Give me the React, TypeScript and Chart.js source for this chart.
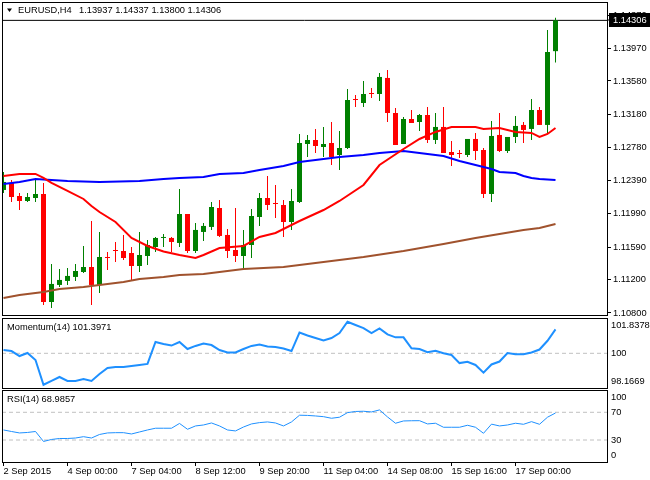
import React, { useEffect, useRef } from 'react';
import { Chart, registerables, ChartConfiguration, Plugin } from 'chart.js';

Chart.register(...registerables);

const FONT = '"Liberation Sans", Arial, sans-serif';
const FONT_SIZE = 9.3;
Chart.defaults.font.family = FONT;
Chart.defaults.font.size = FONT_SIZE;
Chart.defaults.color = '#000';

const BULL = '#008000';
const BEAR = '#ff0000';
const IND = '#1e90ff';
const LEVEL = '#c0c0c0';

// EURUSD H4, 2 Sep 2015 16:00 .. 17 Sep 2015 20:00 (70 bars)
const opens = [
  1.12274, 1.12358, 1.12202, 1.12142, 1.12178, 1.12226, 1.10932, 1.11136, 1.11184, 1.11232,
  1.11291, 1.11351, 1.11136, 1.11471, 1.11555, 1.11543, 1.11519, 1.11363, 1.11483, 1.11591,
  1.11699, 1.11699, 1.11639, 1.11986, 1.11543, 1.11771, 1.11831, 1.12058, 1.11735, 1.11555,
  1.11483, 1.11615, 1.11950, 1.12178, 1.12118, 1.12094, 1.11890, 1.12130, 1.12825, 1.12873,
  1.12789, 1.12837, 1.12693, 1.12777, 1.13364, 1.13316, 1.13436, 1.13424, 1.13616, 1.13196,
  1.12825, 1.13124, 1.13088, 1.13172, 1.12873, 1.13029, 1.12729, 1.12717, 1.12693, 1.12885,
  1.12753, 1.12226, 1.12933, 1.12741, 1.12909, 1.13053, 1.13005, 1.13232, 1.13053, 1.13937,
];
const highs = [
  1.12489, 1.12394, 1.12238, 1.12238, 1.12394, 1.12358, 1.11387, 1.11327, 1.11339, 1.11387,
  1.11603, 1.11902, 1.11771, 1.11531, 1.11651, 1.11735, 1.11591, 1.11771, 1.11675, 1.11711,
  1.11747, 1.11711, 1.12286, 1.11986, 1.11878, 1.11878, 1.12130, 1.12154, 1.11807, 1.12058,
  1.11795, 1.12046, 1.12238, 1.12442, 1.12334, 1.12154, 1.12286, 1.12945, 1.12933, 1.13005,
  1.13029, 1.13088, 1.12981, 1.13484, 1.13412, 1.13580, 1.13496, 1.13675, 1.13711, 1.13256,
  1.13148, 1.13232, 1.13184, 1.13268, 1.13196, 1.13268, 1.12861, 1.12753, 1.12885, 1.12957,
  1.12777, 1.13100, 1.13196, 1.12909, 1.13160, 1.13088, 1.13364, 1.13268, 1.14191, 1.14337,
];
const lows = [
  1.12238, 1.12130, 1.12034, 1.12130, 1.12130, 1.10896, 1.10860, 1.11112, 1.11136, 1.11184,
  1.11279, 1.10896, 1.11040, 1.11315, 1.11411, 1.11435, 1.11196, 1.11291, 1.11375, 1.11531,
  1.11591, 1.11531, 1.11591, 1.11519, 1.11519, 1.11663, 1.11795, 1.11711, 1.11459, 1.11411,
  1.11327, 1.11459, 1.11843, 1.12034, 1.11938, 1.11711, 1.11795, 1.12118, 1.12669, 1.12717,
  1.12669, 1.12573, 1.12513, 1.12765, 1.13268, 1.13268, 1.13376, 1.13340, 1.13088, 1.12813,
  1.12825, 1.13076, 1.12981, 1.12837, 1.12825, 1.12717, 1.12561, 1.12657, 1.12669, 1.12633,
  1.12178, 1.12130, 1.12729, 1.12717, 1.12837, 1.12837, 1.12873, 1.13053, 1.12957, 1.13800,
];
const closes = [
  1.12370, 1.12190, 1.12142, 1.12190, 1.12226, 1.10932, 1.11148, 1.11196, 1.11244, 1.11303,
  1.11351, 1.11136, 1.11471, 1.11459, 1.11543, 1.11459, 1.11363, 1.11495, 1.11615, 1.11699,
  1.11711, 1.11651, 1.11986, 1.11543, 1.11795, 1.11843, 1.12070, 1.11723, 1.11543, 1.11483,
  1.11615, 1.11962, 1.12178, 1.12094, 1.12106, 1.11890, 1.12142, 1.12837, 1.12873, 1.12801,
  1.12825, 1.12669, 1.12777, 1.13352, 1.13352, 1.13424, 1.13424, 1.13628, 1.13196, 1.12813,
  1.13124, 1.13076, 1.13172, 1.12873, 1.13029, 1.12717, 1.12693, 1.12705, 1.12885, 1.12741,
  1.12226, 1.12921, 1.12741, 1.12909, 1.13041, 1.12993, 1.13232, 1.13053, 1.13927, 1.14306,
];
const lastPrice = 1.14306;

// moving averages, read at the listed bar indexes
const redMaBars = [0, 2, 4, 5, 6, 8, 10, 11, 12, 14, 16, 18, 20, 22, 24, 25, 27, 30, 32, 34, 37, 40, 42, 45, 47, 50, 52, 54, 56, 59, 60, 62, 64, 66, 67, 68, 69];
const redMa = [
  1.12442, 1.12466, 1.12466, 1.12418, 1.12358, 1.12262, 1.12166, 1.12082, 1.12010, 1.11890,
  1.11699, 1.11603, 1.11537, 1.11495, 1.11459, 1.11495, 1.11579, 1.11603, 1.11711, 1.11759,
  1.11902, 1.12034, 1.12142, 1.12334, 1.12573, 1.12765, 1.12885, 1.12969, 1.13029, 1.13029,
  1.13005, 1.13017, 1.12969, 1.12957, 1.12909, 1.12945, 1.13017,
];
const blueMaBars = [0, 2, 4, 6, 8, 12, 17, 20, 22, 25, 27, 30, 32, 35, 37, 40, 42, 45, 47, 50, 52, 55, 57, 59, 61, 62, 64, 65, 66, 67, 69];
const blueMa = [
  1.12346, 1.12370, 1.12406, 1.12394, 1.12382, 1.12370, 1.12382, 1.12406, 1.12418, 1.12430,
  1.12466, 1.12478, 1.12513, 1.12561, 1.12609, 1.12645, 1.12669, 1.12693, 1.12717, 1.12741,
  1.12717, 1.12681, 1.12621, 1.12573, 1.12525, 1.12490, 1.12478, 1.12442, 1.12418, 1.12406,
  1.12394,
];
const brownMaBars = [0, 2, 5, 7, 10, 12, 15, 17, 20, 22, 25, 27, 30, 35, 40, 45, 50, 55, 59, 62, 65, 67, 69];
const brownMa = [
  1.10980, 1.11016, 1.11052, 1.11088, 1.11112, 1.11136, 1.11172, 1.11208, 1.11232, 1.11255,
  1.11267, 1.11291, 1.11327, 1.11351, 1.11411, 1.11471, 1.11543, 1.11627, 1.11699, 1.11747,
  1.11795, 1.11819, 1.11867,
];

const momentum = [
  100.19, 100.13, 99.84, 100.02, 99.61, 98.1669, 98.39, 98.62, 98.39, 98.39,
  98.50, 98.39, 98.79, 99.14, 99.20, 99.20, 99.26, 99.32, 99.38, 100.66,
  100.54, 100.45, 100.66, 100.25, 100.43, 100.57, 100.48, 100.19, 100.05, 100.05,
  100.25, 100.43, 100.51, 100.40, 100.37, 100.28, 100.13, 101.21, 101.04, 100.89,
  100.75, 100.89, 101.18, 101.8378, 101.65, 101.47, 101.18, 101.45, 101.10, 100.93,
  100.93, 100.29, 100.25, 100.06, 100.15, 100.00, 99.90, 99.43, 99.51, 99.32,
  98.87, 99.35, 99.52, 100.02, 99.94, 99.94, 100.05, 100.22, 100.73, 101.3971,
];
const rsi = [
  44.5, 42.3, 40.2, 40.9, 42.3, 27.9, 30.8, 32.2, 32.2, 32.9,
  34.8, 32.9, 38.0, 40.2, 40.6, 40.6, 38.7, 41.6, 44.5, 47.0,
  47.0, 47.0, 53.9, 45.5, 50.3, 51.7, 54.6, 50.3, 44.5, 43.1,
  48.8, 53.2, 55.1, 56.1, 54.6, 50.3, 56.1, 65.8, 65.5, 64.7,
  63.7, 61.4, 62.9, 69.5, 71.2, 71.5, 70.5, 73.4, 63.3, 54.2,
  57.5, 57.8, 57.9, 53.2, 54.2, 48.4, 48.4, 48.4, 51.3, 48.4,
  39.7, 52.9, 50.3, 51.7, 54.2, 52.7, 56.5, 52.7, 62.9, 68.9857,
];

const priceTicks = [1.108, 1.112, 1.1159, 1.1199, 1.1239, 1.1278, 1.1318, 1.1358, 1.1397, 1.1437];
const momTicks = [98.1669, 100, 101.8378];
const rsiTicks = [0, 30, 70, 100];
const timeTickBars = [0, 8, 16, 24, 32, 40, 48, 56, 64];
const timeLabels = ['2 Sep 2015', '4 Sep 00:00', '7 Sep 04:00', '8 Sep 12:00', '9 Sep 20:00', '11 Sep 04:00', '14 Sep 08:00', '15 Sep 16:00', '17 Sep 00:00'];

const bars = opens.map((_, i) => i);
const X_MIN = -0.1875;
const X_MAX = 75.4375;

const candleColor = (ctx: any) => (closes[ctx.dataIndex] >= opens[ctx.dataIndex] ? BULL : BEAR);
const pts = (xs: number[], ys: number[]) => xs.map((x, i) => ({ x, y: ys[i] }));

const framePlugin: Plugin = {
  id: 'frame',
  afterDraw(chart) {
    const { ctx, chartArea: a } = chart;
    ctx.save();
    ctx.strokeStyle = '#000';
    ctx.lineWidth = 1;
    ctx.strokeRect(a.left + 0.5, a.top + 0.5, a.right - a.left, a.bottom - a.top - 1);
    ctx.restore();
  },
};

const caption = (items: { text: string; x: number; y: number }[], marker = false): Plugin => ({
  id: 'caption',
  afterDraw(chart) {
    const { ctx } = chart;
    ctx.save();
    ctx.fillStyle = '#000';
    ctx.font = `${FONT_SIZE}px ${FONT}`;
    ctx.textBaseline = 'middle';
    items.forEach((it) => ctx.fillText(it.text, it.x, it.y));
    if (marker) {
      ctx.beginPath();
      ctx.moveTo(7, 8.5);
      ctx.lineTo(12, 8.5);
      ctx.lineTo(9.5, 12);
      ctx.closePath();
      ctx.fill();
    }
    ctx.restore();
  },
});

const priceBox: Plugin = {
  id: 'priceBox',
  afterDraw(chart) {
    const { ctx, chartArea } = chart;
    const y = chart.scales.y.getPixelForValue(lastPrice);
    ctx.save();
    ctx.fillStyle = '#000';
    ctx.fillRect(chartArea.right, Math.round(y) - 0.5, 3, 1);
    ctx.fillRect(609, Math.round(y) - 7, 41, 14);
    ctx.fillStyle = '#fff';
    ctx.font = `${FONT_SIZE}px ${FONT}`;
    ctx.textBaseline = 'middle';
    ctx.fillText(lastPrice.toFixed(5), 613, y);
    ctx.restore();
  },
};

const xAxis = (show: boolean): any => ({
  type: 'linear',
  min: X_MIN,
  max: X_MAX,
  offset: false,
  display: show,
  afterBuildTicks: (s: any) => {
    s.ticks = timeTickBars.map((v) => ({ value: v }));
  },
  afterFit: (s: any) => {
    if (show) s.height = 17;
    s.paddingLeft = 0;
    s.paddingRight = 0;
  },
  grid: { offset: false, drawOnChartArea: false, drawTicks: true, tickLength: 3, color: '#000' },
  border: { display: false },
  ticks: {
    autoSkip: false,
    maxRotation: 0,
    minRotation: 0,
    align: 'start',
    padding: 0,
    color: '#000',
    font: { family: FONT, size: FONT_SIZE, lineHeight: 1.2 },
    callback: (v: any) => timeLabels[timeTickBars.indexOf(Number(v))] ?? '',
  },
});

const yAxis = (min: number, max: number, ticks: number[], cb: (v: number) => any, lineHeight: number, tickLen: number): any => ({
  type: 'linear',
  position: 'right',
  min,
  max,
  afterBuildTicks: (s: any) => {
    s.ticks = ticks.map((v) => ({ value: v }));
  },
  afterFit: (s: any) => {
    s.width = 43;
    s.paddingTop = 0;
    s.paddingBottom = 0;
  },
  grid: { drawOnChartArea: false, drawTicks: tickLen > 0, tickLength: tickLen, color: '#000' },
  border: { display: false },
  ticks: {
    autoSkip: false,
    padding: tickLen > 0 ? 2 : 4,
    color: '#000',
    font: { family: FONT, size: FONT_SIZE, lineHeight },
    callback: (v: any) => cb(Number(v)),
  },
});

const baseOptions = (padding: any) => ({
  animation: false as const,
  responsive: false,
  events: [],
  layout: { padding },
  plugins: { legend: { display: false }, tooltip: { enabled: false } },
});

const mainConfig = (): ChartConfiguration => ({
  type: 'bar',
  data: {
    datasets: [
      { type: 'line', label: 'MA red', data: pts(redMaBars, redMa), borderColor: '#ff0000', borderWidth: 2, pointRadius: 0, order: 0 },
      { type: 'line', label: 'MA blue', data: pts(blueMaBars, blueMa), borderColor: '#0000ff', borderWidth: 2, pointRadius: 0, order: 1 },
      { type: 'line', label: 'MA brown', data: pts(brownMaBars, brownMa), borderColor: '#a0522d', borderWidth: 2, pointRadius: 0, order: 2 },
      {
        type: 'bar',
        label: 'body',
        data: bars.map((i) => ({ x: i, y: [opens[i], closes[i]] })) as any,
        backgroundColor: candleColor,
        grouped: false,
        categoryPercentage: 1,
        barPercentage: 0.625,
        minBarLength: 1,
        order: 3,
      },
      {
        type: 'bar',
        label: 'wick',
        data: bars.map((i) => ({ x: i, y: [lows[i], highs[i]] })) as any,
        backgroundColor: candleColor,
        grouped: false,
        categoryPercentage: 1,
        barPercentage: 0.125,
        maxBarThickness: 1,
        order: 4,
      },
      { type: 'line', label: 'bid', data: [{ x: X_MIN, y: lastPrice }, { x: X_MAX, y: lastPrice }], borderColor: '#000', borderWidth: 1, pointRadius: 0, order: 5 },
    ] as any,
  },
  options: {
    ...baseOptions({ left: 2, top: 2, right: 0, bottom: 1 }),
    scales: {
      x: xAxis(false),
      y: yAxis(1.10764, 1.14526, priceTicks, (v) => v.toFixed(5), 1.2, 4),
    },
  } as any,
  plugins: [
    framePlugin,
    priceBox,
    caption([
      { text: 'EURUSD,H4', x: 18, y: 10.5 },
      { text: '1.13937 1.14337 1.13800 1.14306', x: 79, y: 10.5 },
    ], true),
  ],
});

const momentumConfig = (): ChartConfiguration => ({
  type: 'line',
  data: {
    datasets: [
      { label: 'Momentum(14)', data: pts(bars, momentum), borderColor: IND, borderWidth: 2, pointRadius: 0, order: 0 },
      { label: 'level', data: [{ x: X_MIN, y: 100 }, { x: X_MAX, y: 100 }], borderColor: LEVEL, borderWidth: 1, borderDash: [4, 3], pointRadius: 0, order: 1 },
    ],
  },
  options: {
    ...baseOptions({ left: 2, top: 1, right: 0, bottom: 0 }),
    scales: {
      x: xAxis(false),
      y: yAxis(97.92, 102.057, momTicks, (v) => (v === 101.8378 ? ['', '101.8378'] : v === 98.1669 ? ['98.1669', ''] : String(v)), 0.75, 0),
    },
  } as any,
  plugins: [framePlugin, caption([{ text: 'Momentum(14) 101.3971', x: 7, y: 10 }])],
});

const rsiConfig = (): ChartConfiguration => ({
  type: 'line',
  data: {
    datasets: [
      { label: 'RSI(14)', data: pts(bars, rsi), borderColor: IND, borderWidth: 1, pointRadius: 0, order: 0 },
      { label: '70', data: [{ x: X_MIN, y: 70 }, { x: X_MAX, y: 70 }], borderColor: LEVEL, borderWidth: 1, borderDash: [4, 3], pointRadius: 0, order: 1 },
      { label: '30', data: [{ x: X_MIN, y: 30 }, { x: X_MAX, y: 30 }], borderColor: LEVEL, borderWidth: 1, borderDash: [4, 3], pointRadius: 0, order: 2 },
    ],
  },
  options: {
    ...baseOptions({ left: 2, top: 1, right: 0, bottom: 0 }),
    scales: {
      x: xAxis(true),
      y: yAxis(-3.17, 102.17, rsiTicks, (v) => (v === 100 ? ['', '100'] : v === 0 ? ['0', ''] : String(v)), 1.18, 0),
    },
  } as any,
  plugins: [framePlugin, caption([{ text: 'RSI(14) 68.9857', x: 7, y: 10 }])],
});

interface PanelProps {
  top: number;
  height: number;
  config: () => ChartConfiguration;
}

const Panel = ({ top, height, config }: PanelProps) => {
  const canvasRef = useRef<HTMLCanvasElement>(null);

  useEffect(() => {
    if (!canvasRef.current) return;
    const chart = new Chart(canvasRef.current, config());
    return () => chart.destroy();
  }, [config]);

  return (
    <canvas
      ref={canvasRef}
      width={650}
      height={height}
      style={{ position: 'absolute', left: 0, top, width: 650, height }}
    />
  );
};

export default function App() {
  return (
    <div style={{ position: 'fixed', left: 0, top: 0, width: 650, height: 480, background: '#fff', overflow: 'hidden' }}>
      <Panel top={0} height={317} config={mainConfig} />
      <Panel top={317} height={72} config={momentumConfig} />
      <Panel top={389} height={91} config={rsiConfig} />
    </div>
  );
}
